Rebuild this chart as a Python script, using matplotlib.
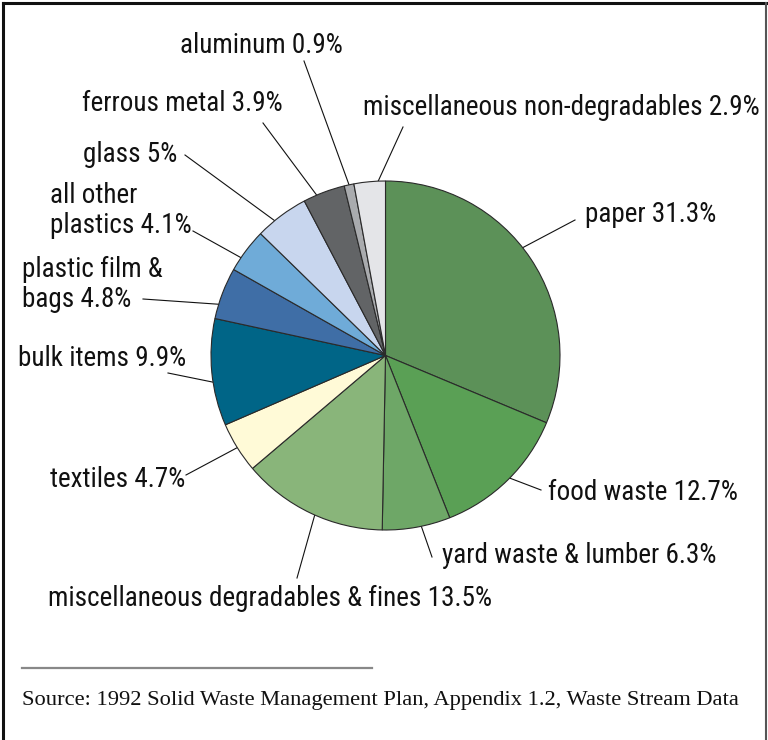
import numpy as np
import matplotlib
matplotlib.use("Agg")
import matplotlib.pyplot as plt
from matplotlib.lines import Line2D

# Composição do lixo (% em peso), no sentido horário a partir do topo
categorias = ['paper', 'food waste', 'yard waste & lumber',
              'miscellaneous degradables & fines', 'textiles', 'bulk items',
              'plastic film &\nbags', 'all other\nplastics', 'glass',
              'ferrous metal', 'aluminum', 'miscellaneous non-degradables']
percentuais = [31.3, 12.7, 6.3, 13.5, 4.7, 9.9, 4.8, 4.1, 5, 3.9, 0.9, 2.9]
cores = ['#5c9158', '#5aa055', '#6ea767', '#89b57a', '#fffad7', '#006587',
         '#3f6ea6', '#6fabd8', '#c8d6ee', '#626466', '#a9abae', '#e4e5e8']

W, H = 768, 740

# posição do texto (x esquerdo, linha de base) e início da linha-guia, em pixels
pos_texto = [(585, 222), (548, 500), (442, 563), (48, 606), (50, 487),
             (18, 366), (22, 307), (50, 233), (83, 162), (82, 111),
             (180, 53), (363, 115)]
inicio_guia = [(575, 220), (541, 490), (432, 557), (297, 578), (186, 475),
               (168, 373), (143, 299), (193, 231), (185, 155), (263, 123),
               (304, 61), (403, 127)]
# fração ao longo da fatia onde a guia toca a borda
frac_guia = [0.46, 0.48, 0.43, 0.47, 0.50, 0.41, 0.28, 0.31, 0.35, 0.32, 0.5, 0.77]


def px(x, y):
    return x, H - y


fig = plt.figure(figsize=(W / 100, H / 100), dpi=100)
ax = fig.add_axes([0, 0, 1, 1])

centro = px(385.5, 355.5)
raio = 174.5
fatias, _ = ax.pie(percentuais, colors=cores, startangle=90, counterclock=False,
                   center=centro, radius=raio,
                   wedgeprops=dict(edgecolor='#2a2a2a', linewidth=0.8))

fonte = ['Roboto Condensed', 'DejaVu Sans']
for i, nome in enumerate(categorias):
    pct = percentuais[i]
    rotulo = f'{nome} {pct:g}%'
    tx, ty = px(*pos_texto[i])
    ax.text(tx, ty, rotulo, ha='left', va='baseline', fontsize=19.5,
            family=fonte, color='#111111', linespacing=1.12)
    w = fatias[i]
    ang = np.deg2rad(w.theta2 + (w.theta1 - w.theta2) * frac_guia[i])
    ex = centro[0] + raio * np.cos(ang)
    ey = centro[1] + raio * np.sin(ang)
    sx, sy = px(*inicio_guia[i])
    ax.plot([sx, ex], [sy, ey], color='#111111', lw=0.8, zorder=0.5)

# linha separadora e fonte dos dados
ax.plot([22, 372], [H - 668, H - 668], color='#888888', lw=1.6)
ax.text(22, H - 705, 'Source: 1992 Solid Waste Management Plan, Appendix 1.2, '
        'Waste Stream Data', ha='left', va='baseline', fontsize=16.2,
        family=['Liberation Serif', 'DejaVu Serif'], color='#111111')

ax.set_xlim(0, W)
ax.set_ylim(0, H)
ax.set_aspect('equal')
ax.axis('off')

# moldura (esquerda, topo, direita)
fig.add_artist(Line2D([2.5 / W, 2.5 / W], [0, 1 - 2.5 / H], color='#111111', lw=2.2))
fig.add_artist(Line2D([2.5 / W, 765.5 / W], [1 - 2.5 / H, 1 - 2.5 / H], color='#111111', lw=2.2))
fig.add_artist(Line2D([765.5 / W, 765.5 / W], [0, 1 - 2.5 / H], color='#555555', lw=1.5))

fig.savefig('out.png', dpi=100)
